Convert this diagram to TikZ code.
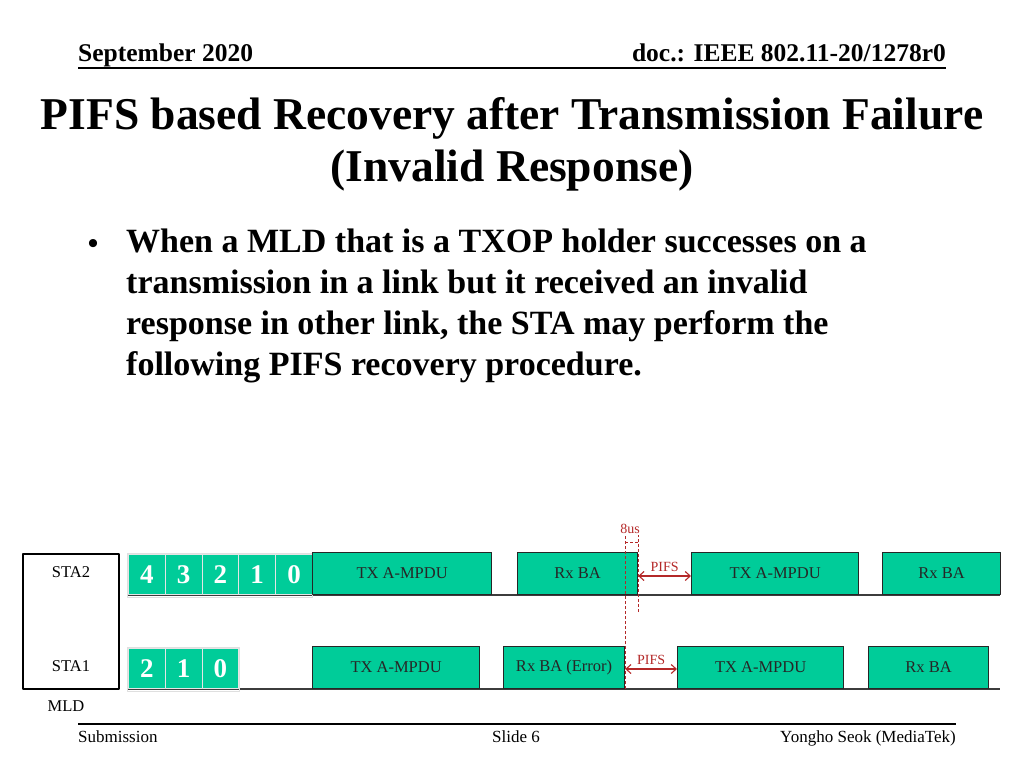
\documentclass[tikz,border=0pt]{standalone}
\usepackage{fontspec}
\setmainfont{Liberation Serif}
\usetikzlibrary{positioning,arrows.meta}
\definecolor{mkgreen}{RGB}{0,204,153}
\definecolor{mkred}{RGB}{180,40,40}
\definecolor{mkline}{RGB}{60,60,60}
\begin{document}
\begin{tikzpicture}[x=1pt, y=-1pt, >={Straight Barb[length=5pt,width=9pt]}, line join=round,
  font=\fontsize{16.5}{18}\selectfont,
  frame/.style={draw=black!85, line width=1.2pt, fill=mkgreen, inner sep=0pt, anchor=south west, minimum height=42pt, text=black!85},
  cell/.style={draw=white!80!gray, line width=0.8pt, fill=mkgreen, minimum width=36.8pt, minimum height=40pt, inner sep=0pt, text=white, font=\bfseries\fontsize{27}{27}\selectfont, anchor=south west},
  gap/.style={mkred, dash pattern=on 3pt off 2pt, line width=0.8pt},
  ifs/.style={mkred, <->, line width=1.1pt},
  redtxt/.style={text=mkred, font=\fontsize{14}{14}\selectfont, inner sep=1pt}]
\useasboundingbox (0,0) rectangle (1024,768);
% header and footer of the slide
\node[anchor=base west, inner sep=0pt, font=\bfseries\fontsize{25.5}{25.5}\selectfont] (month) at (78,61) {September 2020};
\node[anchor=base east, inner sep=0pt, font=\bfseries\fontsize{25.5}{25.5}\selectfont] (docno) at (946,61) {doc.: IEEE 802.11-20/1278r0};
\draw[line width=1.3pt] (78,68) -- (946,68);
\draw[line width=1.3pt] (78,724) -- (956,724);
\node[anchor=base west, inner sep=0pt, font=\fontsize{17}{17}\selectfont] (subm) at (78,742) {Submission};
\node[anchor=base, inner sep=0pt, font=\fontsize{17}{17}\selectfont] (slide) at (516,742) {Slide 6};
\node[anchor=base east, inner sep=0pt, font=\fontsize{17}{17}\selectfont] (author) at (956,742) {Yongho Seok (MediaTek)};
% title and bullet text (base = last line)
\node[anchor=base, inner sep=0pt, align=center, font=\bfseries\fontsize{45.5}{52}\selectfont] (title) at (512,181)
  {PIFS based Recovery after Transmission Failure\\(Invalid Response)};
\node[anchor=base, inner sep=0pt, font=\bfseries\fontsize{30}{30}\selectfont] (bullet) at (93,253) {•};
\node[anchor=base west, inner sep=0pt, align=left, font=\bfseries\fontsize{34}{40.7}\selectfont] (body) at (126,375)
  {When a MLD that is a TXOP holder successes on a\\
   transmission in a link but it received an invalid\\
   response in other link, the STA may perform the\\
   following PIFS recovery procedure.};
% MLD with its two STAs
\draw[line width=1.2pt] (23,554) rectangle (119,689);
\node (sta2) at (71,572) {STA2};
\node (sta1) at (71,666) {STA1};
\node (mld) at (66,706) {MLD};
% time lines
\draw[mkline, line width=1.5pt] (128,595) -- (1000,595);
\draw[mkline, line width=1.5pt] (128,689) -- (1000,689);
% backoff counters
\draw[white!75!gray, line width=0.6pt] (127,553) rectangle (312,597);
\foreach \n [count=\i from 0] in {4,3,2,1,0}
  \node[cell] (ctrB\n) at (128+36.8*\i,595) {\n};
\draw[white!75!gray, line width=0.6pt] (127,647) rectangle (239,691);
\foreach \n [count=\i from 0] in {2,1,0}
  \node[cell] (ctrA\n) at (128+36.8*\i,689) {\n};
% link of STA2
\node[frame, minimum width=179pt] (txB1) at (312,595) {TX A-MPDU};
\node[frame, minimum width=120pt] (baB1) at (517,595) {Rx BA};
\node[frame, minimum width=167pt] (txB2) at (691,595) {TX A-MPDU};
\node[frame, minimum width=118pt] (baB2) at (882,595) {Rx BA};
% link of STA1
\node[frame, minimum width=167pt] (txA1) at (312,689) {TX A-MPDU};
\node[frame, minimum width=121pt] (baA1) at (503,689) {Rx BA (Error)};
\node[frame, minimum width=166pt] (txA2) at (677,689) {TX A-MPDU};
\node[frame, minimum width=120pt] (baA2) at (868,689) {Rx BA};
% 8us and PIFS marks
\coordinate (errEnd) at (baA1.south east);
\coordinate (okEnd) at (baB1.south east);
\draw[gap] (errEnd) -- (errEnd |- 0,535);
\draw[gap] (okEnd |- 0,612) -- (okEnd |- 0,535);
\draw[gap] (errEnd |- 0,542) -- (okEnd |- 0,542);
\node[redtxt, anchor=south] (eight) at (630,535) {8us};
\draw[ifs] (baB1.east |- 0,576) -- (txB2.west |- 0,576) node[midway, above=3pt, redtxt] (pifsB) {PIFS};
\draw[ifs] (baA1.east |- 0,669) -- (txA2.west |- 0,669) node[midway, above=3pt, redtxt] (pifsA) {PIFS};
\end{tikzpicture}
\end{document}
